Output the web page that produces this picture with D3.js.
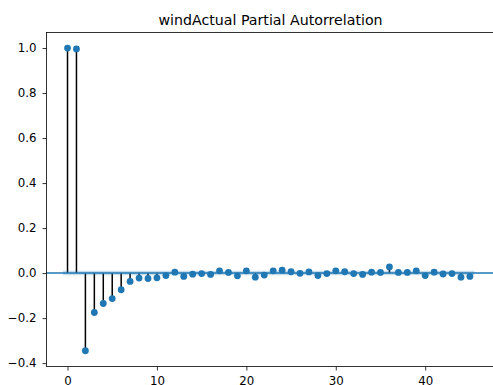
<!DOCTYPE html>
<html>
<head>
<meta charset="utf-8">
<script src="https://cdn.jsdelivr.net/npm/d3@7"></script>
<style>
	body { margin: 0; background: #fff; }
	svg { display: block; font-family: 'DejaVu Sans', sans-serif; }
</style>
</head>
<body>
<svg width="493" height="385"></svg>
<script>
// partial autocorrelation per lag
const lags = d3.range(0, 46);
const pacf = [
	1.0, 0.996, -0.345, -0.175, -0.135, -0.113, -0.074, -0.037, -0.022, -0.024,
	-0.021, -0.011, 0.004, -0.015, -0.005, -0.002, -0.006, 0.010, 0.003, -0.012,
	0.010, -0.018, -0.009, 0.010, 0.013, 0.006, -0.001, 0.005, -0.011, -0.002,
	0.010, 0.006, -0.002, -0.006, 0.004, 0.003, 0.027, 0.003, 0.003, 0.010,
	-0.011, 0.004, -0.004, -0.002, -0.018, -0.015
];
const confHalf = 0.01;
const xTicks = [0, 10, 20, 30, 40];
const yTicks = [-0.4, -0.2, 0.0, 0.2, 0.4, 0.6, 0.8, 1.0];
const title = 'windActual Partial Autorrelation';

const svg = d3.select('svg');
const blue = '#1f77b4';
const box = { left: 46.5, right: 494.5, top: 32.5, bottom: 366.5 };

const x = d3.scaleLinear().domain([-2.35, 47.75]).range([box.left, box.right]);
const y = d3.scaleLinear().domain([-0.415, 1.069]).range([box.bottom, box.top]);

const plot = svg.append('g');

// stems
plot.selectAll('line.stem')
	.data(lags)
	.enter()
	.append('line')
	.attr('class', 'stem')
	.attr('x1', (d) => x(d))
	.attr('x2', (d) => x(d))
	.attr('y1', y(0))
	.attr('y2', (d) => y(pacf[d]))
	.attr('stroke', '#000')
	.attr('stroke-width', 1.5);

// zero line
plot.append('line')
	.attr('x1', box.left)
	.attr('x2', box.right)
	.attr('y1', y(0))
	.attr('y2', y(0))
	.attr('stroke', blue)
	.attr('stroke-width', 1.5);

// markers
plot.selectAll('circle')
	.data(lags)
	.enter()
	.append('circle')
	.attr('cx', (d) => x(d))
	.attr('cy', (d) => y(pacf[d]))
	.attr('r', 3.4)
	.attr('fill', blue);

// confidence band
const bandX = lags.map((d, i) => (i === 0 ? d - 0.5 : i === lags.length - 1 ? d + 0.5 : d));
plot.append('path')
	.datum(bandX)
	.attr('d', d3.area()
		.x((d) => x(d))
		.y0(y(-confHalf))
		.y1(y(confHalf)))
	.attr('fill', blue)
	.attr('fill-opacity', 0.25);

// axes
const yAxis = svg.append('g')
	.attr('transform', `translate(${box.left},0)`)
	.call(d3.axisLeft(y).tickValues(yTicks).tickSize(4).tickPadding(6)
		.tickFormat((d) => d3.format('.1f')(d).replace('-', '\u2212')));
yAxis.select('.domain').remove();

const xAxis = svg.append('g')
	.attr('transform', `translate(0,${box.bottom})`)
	.call(d3.axisBottom(x).tickValues(xTicks).tickSize(4).tickPadding(6).tickFormat(d3.format('d')));
xAxis.select('.domain').remove();

svg.selectAll('.tick text').attr('font-size', 11.8).attr('fill', '#000').attr('font-family', "'DejaVu Sans', sans-serif");
svg.selectAll('.tick line').attr('stroke', '#000').attr('stroke-width', 0.8);

// spines
svg.append('rect')
	.attr('x', box.left)
	.attr('y', box.top)
	.attr('width', box.right - box.left)
	.attr('height', box.bottom - box.top)
	.attr('fill', 'none')
	.attr('stroke', '#000')
	.attr('stroke-width', 0.8);

svg.append('text')
	.attr('x', (box.left + box.right) / 2)
	.attr('y', 24.7)
	.attr('text-anchor', 'middle')
	.attr('font-size', 14.2)
	.attr('fill', '#000')
	.text(title);
</script>
</body>
</html>
